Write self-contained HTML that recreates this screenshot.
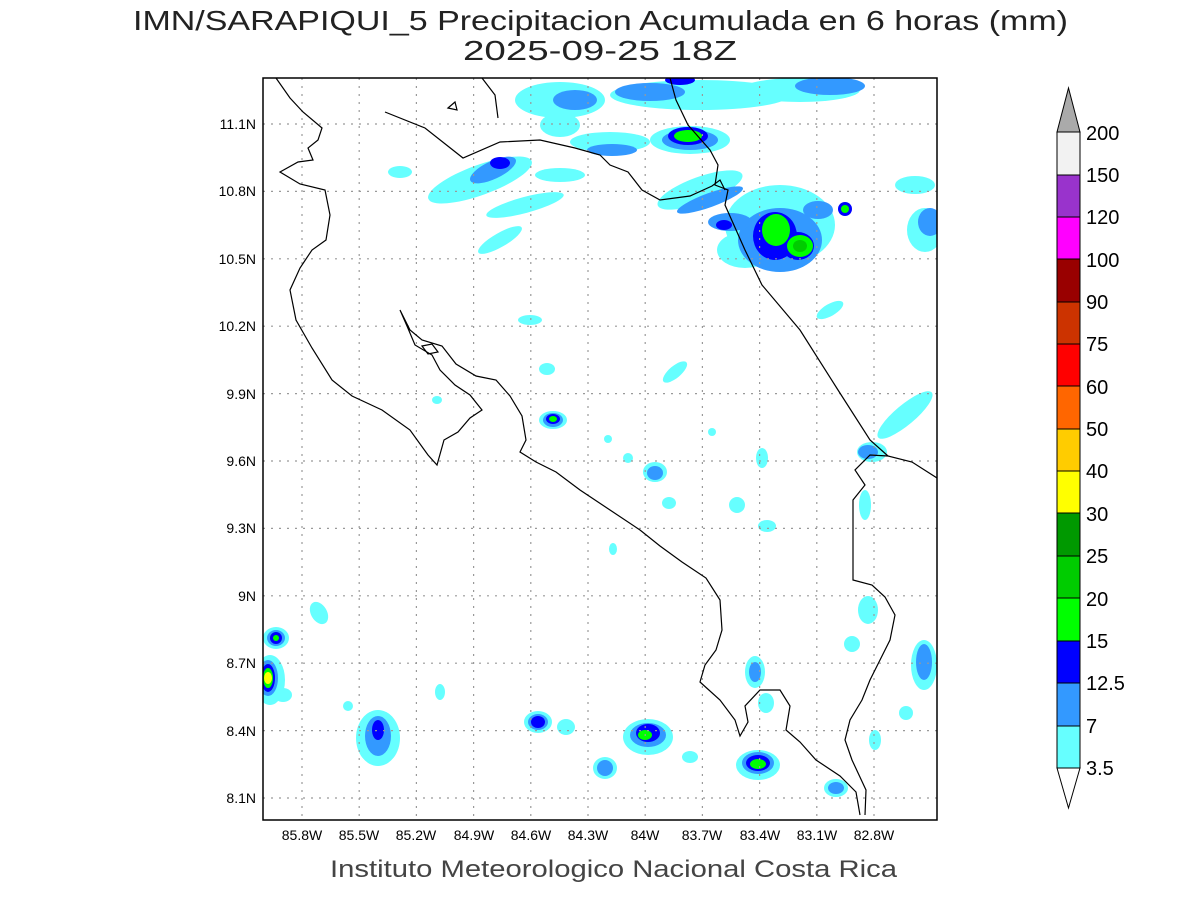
<!DOCTYPE html>
<html><head><meta charset="utf-8"><style>body{margin:0;background:#fff}svg{display:block}</style></head><body>
<svg width="1200" height="900" xmlns="http://www.w3.org/2000/svg" font-family="Liberation Sans, sans-serif">
<rect width="1200" height="900" fill="#fff"/>
<text x="133" y="30" font-size="28" textLength="935" lengthAdjust="spacingAndGlyphs" fill="#222">IMN/SARAPIQUI_5 Precipitacion Acumulada en 6 horas (mm)</text>
<text x="463" y="60" font-size="28" textLength="274" lengthAdjust="spacingAndGlyphs" fill="#222">2025-09-25 18Z</text>
<defs><clipPath id="c"><rect x="263" y="78" width="674" height="742"/></clipPath></defs>
<g clip-path="url(#c)">
<g fill="#66ffff">
<ellipse cx="560" cy="100" rx="45" ry="18"/><ellipse cx="560" cy="125" rx="20" ry="12"/><ellipse cx="700" cy="95" rx="90" ry="15"/><ellipse cx="800" cy="90" rx="60" ry="12"/>
<ellipse cx="610" cy="142" rx="40" ry="10"/><ellipse cx="690" cy="140" rx="40" ry="14"/><ellipse cx="480" cy="180" rx="55" ry="15" transform="rotate(-20 480 180)"/>
<ellipse cx="525" cy="205" rx="40" ry="8" transform="rotate(-15 525 205)"/><ellipse cx="560" cy="175" rx="25" ry="7"/>
<ellipse cx="500" cy="240" rx="25" ry="7" transform="rotate(-30 500 240)"/><ellipse cx="400" cy="172" rx="12" ry="6"/>
<ellipse cx="700" cy="190" rx="45" ry="13" transform="rotate(-20 700 190)"/><ellipse cx="780" cy="225" rx="55" ry="40"/>
<ellipse cx="745" cy="250" rx="28" ry="18"/><ellipse cx="915" cy="185" rx="20" ry="9"/><ellipse cx="925" cy="230" rx="18" ry="22"/>
<ellipse cx="830" cy="310" rx="15" ry="6" transform="rotate(-30 830 310)"/><ellipse cx="530" cy="320" rx="12" ry="5"/>
<ellipse cx="905" cy="415" rx="35" ry="10" transform="rotate(-40 905 415)"/><ellipse cx="872" cy="452" rx="15" ry="10"/>
<ellipse cx="553" cy="420" rx="14" ry="9"/><ellipse cx="547" cy="369" rx="8" ry="6"/><ellipse cx="675" cy="372" rx="15" ry="6" transform="rotate(-40 675 372)"/>
<ellipse cx="655" cy="472" rx="12" ry="10"/><ellipse cx="669" cy="503" rx="7" ry="6"/><ellipse cx="737" cy="505" rx="8" ry="8"/>
<ellipse cx="767" cy="526" rx="9" ry="6"/><ellipse cx="762" cy="458" rx="6" ry="10"/><ellipse cx="608" cy="439" rx="4" ry="4"/>
<ellipse cx="628" cy="458" rx="5" ry="5"/><ellipse cx="613" cy="549" rx="4" ry="6"/><ellipse cx="865" cy="505" rx="6" ry="15"/>
<ellipse cx="276" cy="638" rx="13" ry="11"/><ellipse cx="270" cy="680" rx="15" ry="25"/><ellipse cx="283" cy="695" rx="9" ry="7"/>
<ellipse cx="319" cy="613" rx="8" ry="12" transform="rotate(-30 319 613)"/><ellipse cx="378" cy="738" rx="22" ry="28"/>
<ellipse cx="538" cy="722" rx="14" ry="11"/><ellipse cx="566" cy="727" rx="9" ry="8"/><ellipse cx="648" cy="737" rx="25" ry="18"/>
<ellipse cx="605" cy="768" rx="12" ry="11"/><ellipse cx="758" cy="765" rx="22" ry="15"/><ellipse cx="755" cy="672" rx="10" ry="16"/>
<ellipse cx="766" cy="703" rx="8" ry="10"/><ellipse cx="836" cy="788" rx="12" ry="9"/><ellipse cx="868" cy="610" rx="10" ry="14"/>
<ellipse cx="852" cy="644" rx="8" ry="8"/><ellipse cx="924" cy="665" rx="13" ry="25"/><ellipse cx="906" cy="713" rx="7" ry="7"/>
<ellipse cx="875" cy="740" rx="6" ry="10"/><ellipse cx="440" cy="692" rx="5" ry="8"/><ellipse cx="690" cy="757" rx="8" ry="6"/>
<ellipse cx="348" cy="706" rx="5" ry="5"/><ellipse cx="437" cy="400" rx="5" ry="4"/><ellipse cx="712" cy="432" rx="4" ry="4"/>
</g>
<g fill="#3399ff">
<ellipse cx="575" cy="100" rx="22" ry="10"/><ellipse cx="650" cy="92" rx="35" ry="9"/><ellipse cx="830" cy="86" rx="35" ry="9"/>
<ellipse cx="690" cy="140" rx="28" ry="10"/><ellipse cx="612" cy="150" rx="25" ry="6"/><ellipse cx="493" cy="170" rx="25" ry="9" transform="rotate(-25 493 170)"/>
<ellipse cx="780" cy="240" rx="42" ry="32"/><ellipse cx="730" cy="222" rx="22" ry="9"/><ellipse cx="710" cy="200" rx="35" ry="7" transform="rotate(-20 710 200)"/>
<ellipse cx="818" cy="210" rx="15" ry="9"/><ellipse cx="930" cy="222" rx="12" ry="14"/><ellipse cx="553" cy="420" rx="10" ry="7"/>
<ellipse cx="655" cy="473" rx="8" ry="7"/><ellipse cx="276" cy="638" rx="9" ry="8"/><ellipse cx="268" cy="678" rx="10" ry="18"/>
<ellipse cx="378" cy="736" rx="13" ry="20"/><ellipse cx="538" cy="722" rx="10" ry="8"/><ellipse cx="648" cy="735" rx="18" ry="12"/>
<ellipse cx="605" cy="768" rx="8" ry="8"/><ellipse cx="758" cy="763" rx="16" ry="11"/><ellipse cx="755" cy="672" rx="6" ry="10"/>
<ellipse cx="836" cy="788" rx="8" ry="6"/><ellipse cx="924" cy="662" rx="8" ry="18"/><ellipse cx="868" cy="452" rx="10" ry="7"/>
</g>
<g fill="#0000ff">
<ellipse cx="688" cy="136" rx="20" ry="9"/><ellipse cx="680" cy="80" rx="15" ry="5"/><ellipse cx="775" cy="236" rx="22" ry="24"/><ellipse cx="798" cy="246" rx="16" ry="14"/>
<ellipse cx="724" cy="225" rx="8" ry="5"/><ellipse cx="845" cy="209" rx="7" ry="7"/><ellipse cx="276" cy="638" rx="6" ry="6"/>
<ellipse cx="268" cy="678" rx="7" ry="14"/><ellipse cx="648" cy="733" rx="12" ry="9"/><ellipse cx="538" cy="722" rx="7" ry="6"/>
<ellipse cx="758" cy="763" rx="12" ry="8"/><ellipse cx="378" cy="730" rx="6" ry="10"/><ellipse cx="553" cy="419" rx="7" ry="5"/>
<ellipse cx="500" cy="163" rx="10" ry="6"/>
</g>
<g fill="#00ff00">
<ellipse cx="688" cy="136" rx="14" ry="6"/><ellipse cx="776" cy="230" rx="14" ry="16"/><ellipse cx="800" cy="246" rx="13" ry="11"/>
<ellipse cx="845" cy="209" rx="4" ry="4"/><ellipse cx="268" cy="678" rx="5" ry="10"/><ellipse cx="645" cy="735" rx="7" ry="5"/>
<ellipse cx="758" cy="764" rx="8" ry="5"/><ellipse cx="553" cy="419" rx="4" ry="3"/><ellipse cx="276" cy="638" rx="3" ry="3"/>
</g>
<ellipse cx="268" cy="678" rx="4" ry="6" fill="#ffff00"/>
<ellipse cx="800" cy="246" rx="7" ry="6" fill="#00cc00"/>
<g stroke="#999" stroke-width="1.2" stroke-dasharray="2,6" fill="none">
<path d="M302 78V820M359.2 78V820M416.4 78V820M473.6 78V820M530.8 78V820M588 78V820M645.2 78V820M702.4 78V820M759.6 78V820M816.8 78V820M874 78V820"/>
<path d="M263 124H937M263 191.4H937M263 258.8H937M263 326.2H937M263 393.6H937M263 461H937M263 528.4H937M263 595.8H937M263 663.2H937M263 730.6H937M263 798H937"/>
</g>
<g stroke="#000" stroke-width="1.2" fill="none">
<polyline points="276,78 290,98 303,112 322,128 318,140 308,148 313,160 298,162 280,172 300,184 325,190 330,215 326,240 312,250 300,268 290,290 296,320 312,348 332,380 352,396 382,410 410,430 428,455 437,465 444,440 458,432 470,418 482,410 470,395 455,385 440,370 432,355 415,345 407,326 400,310 410,330 422,340 442,346 456,364 476,376 496,380 510,396 522,416 526,440 520,452 536,462 556,472 580,490 610,510 640,530 660,546 682,562 706,578 720,600 722,630 716,650 705,665 700,682 720,700 735,720 740,736 748,722 745,706 760,690 780,690 790,706 786,730 800,742 816,760 840,776 856,792 860,815"/>
<polyline points="865,815 866,790 852,760 845,740 850,720 862,700 870,680 880,660 890,640 895,615 885,597 872,585 853,580 853,500 865,485 855,470 870,455 888,456 912,462 937,478"/>
<polyline points="670,78 676,100 688,125 710,150 718,165 715,185 728,190 725,205 745,250 762,285 800,330 838,390 870,440 888,456"/>
<polyline points="385,112 425,128 463,158 500,142 540,140 575,148 600,155 610,165 628,172 642,190 660,200 690,196 712,186 720,180 725,190"/>
<polyline points="482,78 495,95 498,118"/>
<polygon points="422,346 432,344 438,352 428,354"/>
<polygon points="448,108 455,102 457,110"/>
</g>
</g>
<rect x="263" y="78" width="674" height="742" fill="none" stroke="#000" stroke-width="1.5"/>
<g font-size="14" fill="#000" text-anchor="middle">
<text x="302" y="840">85.8W</text><text x="359" y="840">85.5W</text><text x="416" y="840">85.2W</text><text x="474" y="840">84.9W</text><text x="531" y="840">84.6W</text><text x="588" y="840">84.3W</text><text x="645" y="840">84W</text><text x="702" y="840">83.7W</text><text x="760" y="840">83.4W</text><text x="817" y="840">83.1W</text><text x="874" y="840">82.8W</text>
</g>
<g font-size="14" fill="#000" text-anchor="end">
<text x="256" y="129">11.1N</text><text x="256" y="196">10.8N</text><text x="256" y="264">10.5N</text><text x="256" y="331">10.2N</text><text x="256" y="399">9.9N</text><text x="256" y="466">9.6N</text><text x="256" y="533">9.3N</text><text x="256" y="601">9N</text><text x="256" y="668">8.7N</text><text x="256" y="736">8.4N</text><text x="256" y="803">8.1N</text>
</g>
<text x="330" y="877" font-size="24" textLength="567" lengthAdjust="spacingAndGlyphs" fill="#444">Instituto Meteorologico Nacional Costa Rica</text>
<g stroke="#000" stroke-width="1">
<polygon points="1057,132 1080,132 1068.5,88" fill="#aaaaaa"/>
<rect x="1057" y="132" width="23" height="43" fill="#f2f2f2"/>
<rect x="1057" y="175" width="23" height="42" fill="#9933cc"/>
<rect x="1057" y="217" width="23" height="42" fill="#ff00ff"/>
<rect x="1057" y="259" width="23" height="43" fill="#990000"/>
<rect x="1057" y="302" width="23" height="42" fill="#cc3300"/>
<rect x="1057" y="344" width="23" height="42" fill="#ff0000"/>
<rect x="1057" y="386" width="23" height="43" fill="#ff6600"/>
<rect x="1057" y="429" width="23" height="42" fill="#ffcc00"/>
<rect x="1057" y="471" width="23" height="42" fill="#ffff00"/>
<rect x="1057" y="513" width="23" height="43" fill="#009900"/>
<rect x="1057" y="556" width="23" height="42" fill="#00cc00"/>
<rect x="1057" y="598" width="23" height="43" fill="#00ff00"/>
<rect x="1057" y="641" width="23" height="42" fill="#0000ff"/>
<rect x="1057" y="683" width="23" height="43" fill="#3399ff"/>
<rect x="1057" y="726" width="23" height="42" fill="#66ffff"/>
<polygon points="1057,768 1080,768 1068.5,808" fill="#ffffff"/>
</g>
<g font-size="20" fill="#000">
<text x="1086" y="140">200</text><text x="1086" y="182">150</text><text x="1086" y="224">120</text><text x="1086" y="267">100</text><text x="1086" y="309">90</text><text x="1086" y="351">75</text><text x="1086" y="394">60</text><text x="1086" y="436">50</text><text x="1086" y="478">40</text><text x="1086" y="521">30</text><text x="1086" y="563">25</text><text x="1086" y="606">20</text><text x="1086" y="648">15</text><text x="1086" y="690">12.5</text><text x="1086" y="733">7</text><text x="1086" y="775">3.5</text>
</g>
</svg>
</body></html>
